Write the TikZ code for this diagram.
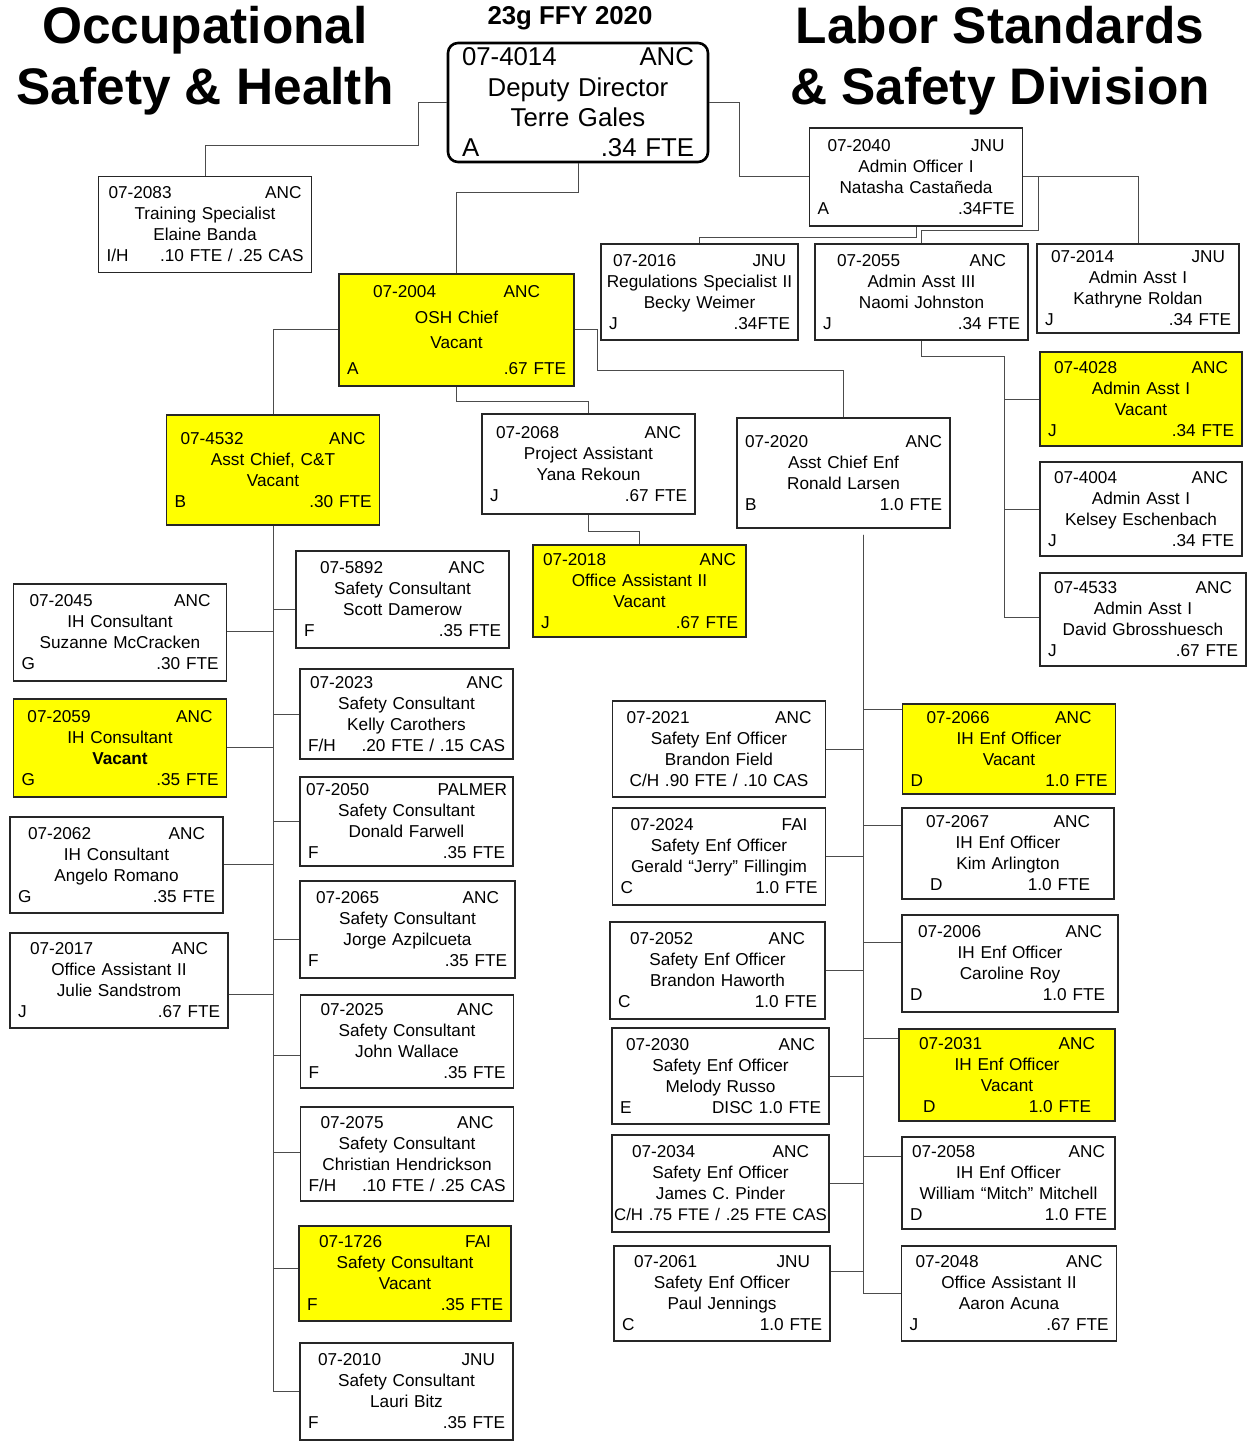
\documentclass[tikz,border=0pt]{standalone}
\usepackage{fontspec}
\setmainfont{Liberation Sans}
\definecolor{vacant}{RGB}{255,255,0}
\newcommand{\posbox}[7][6pt]{\makebox[\hsize]{\hspace{#1}#2\hfill#3\hspace{#1}}\\#4\\#5\\\makebox[\hsize]{\hspace{2pt}#6\hfill#7\hspace{2pt}}}
\tikzstyle{job} = [rectangle, draw=black!85, line width=0.8pt, fill=white, minimum height=48pt, text width=102.5pt, inner xsep=2pt, inner ysep=1pt, align=center, font=\fontsize{8.6}{10.5}\selectfont]
\tikzstyle{jobvac} = [job, fill=vacant]
\tikzstyle{deputy} = [rectangle, rounded corners=5pt, draw=black, line width=1.3pt, text width=124pt, minimum height=59.5pt, inner xsep=3pt, inner ysep=0.5pt, align=center, font=\fontsize{12.9}{15.2}\selectfont]
\tikzstyle{heading} = [font=\fontsize{25.7}{30.5}\selectfont\bfseries, align=center, inner sep=0pt, anchor=north]
\tikzstyle{link} = [draw=black!70, line width=0.5pt]

\begin{document}
\begin{tikzpicture}[x=0.5pt, y=-0.5pt]
\useasboundingbox (0,0) rectangle (1251,1444);

\node[heading] (osh) at (205,6) {Occupational\\Safety \& Health};
\node[heading] (lssd) at (1000,6) {Labor Standards\\\& Safety Division};
\node[heading, font=\fontsize{12.9}{15}\selectfont\bfseries] (ffy) at (570,6) {23g FFY 2020};

\node[deputy] (dd) at (578,102.5) {\posbox[4pt]{07-4014}{ANC}{Deputy Director}{Terre Gales}{\hspace{2pt}A}{.34 FTE\hspace{2pt}}};

\node[job] (p2083) at (205,224.5) {\posbox[3pt]{07-2083}{ANC}{Training Specialist}{Elaine Banda}{I/H}{.10 FTE / .25 CAS}};
\node[job, minimum height=49pt] (p2040) at (916,177) {\posbox[7pt]{07-2040}{JNU}{Admin Officer I}{Natasha Castañeda}{A}{.34FTE}};
\node[job, text width=94.5pt] (p2016) at (699.5,292) {\posbox[4pt]{07-2016}{JNU}{Regulations Specialist II}{Becky Weimer}{J}{.34FTE}};
\node[job] (p2055) at (921.5,292) {\posbox[9pt]{07-2055}{ANC}{Admin Asst III}{Naomi Johnston}{J}{.34 FTE}};
\node[job, text width=97pt, minimum height=44.5pt] (p2014) at (1138,288.5) {\posbox[5pt]{07-2014}{JNU}{Admin Asst I}{Kathryne Roldan}{J}{.34 FTE}};
\node[jobvac, text width=113.5pt, minimum height=56pt, font=\fontsize{8.6}{12.8}\selectfont] (p2004) at (456.5,330) {\posbox[15pt]{07-2004}{ANC}{OSH Chief}{Vacant}{A}{.67 FTE}};

\node[jobvac, text width=97pt, minimum height=47pt] (p4028) at (1141,399) {\posbox[5pt]{07-4028}{ANC}{Admin Asst I}{Vacant}{J}{.34 FTE}};
\node[job, text width=97pt, minimum height=47pt] (p4004) at (1141,509) {\posbox[5pt]{07-4004}{ANC}{Admin Asst I}{Kelsey Eschenbach}{J}{.34 FTE}};
\node[job, text width=99pt, minimum height=46.5pt] (p4533) at (1143,619.5) {\posbox[5pt]{07-4533}{ANC}{Admin Asst I}{David Gbrosshuesch}{J}{.67 FTE}};

\node[jobvac, minimum height=55pt] (p4532) at (273,470) {\posbox[5pt]{07-4532}{ANC}{Asst Chief, C\&T}{Vacant}{B}{.30 FTE}};
\node[job, minimum height=50pt] (p2068) at (588.5,464) {\posbox[5pt]{07-2068}{ANC}{Project Assistant}{Yana Rekoun}{J}{.67 FTE}};
\node[job, minimum height=55pt] (p2020) at (843.5,473) {\posbox[2pt]{07-2020}{ANC}{Asst Chief Enf}{Ronald Larsen}{B}{1.0 FTE}};
\node[jobvac, minimum height=46pt] (p2018) at (639.5,591) {\posbox[3pt]{07-2018}{ANC}{Office Assistant II}{Vacant}{J}{.67 FTE}};

\node[job, minimum height=48.5pt] (p2045) at (120,632.5) {\posbox[6pt]{07-2045}{ANC}{IH Consultant}{Suzanne McCracken}{G}{.30 FTE}};
\node[jobvac, minimum height=49pt] (p2059) at (120,748) {\posbox[5pt]{07-2059}{ANC}{IH Consultant}{\textbf{Vacant}}{G}{.35 FTE}};
\node[job] (p2062) at (116.5,865) {\posbox[7pt]{07-2062}{ANC}{IH Consultant}{Angelo Romano}{G}{.35 FTE}};
\node[job, text width=105pt, minimum height=47.5pt] (p2017) at (119,980.5) {\posbox[8pt]{07-2017}{ANC}{Office Assistant II}{Julie Sandstrom}{J}{.67 FTE}};

\node[job, minimum height=48.5pt] (p5892) at (402.5,599.5) {\posbox[10pt]{07-5892}{ANC}{Safety Consultant}{Scott Damerow}{F}{.35 FTE}};
\node[job, minimum height=45pt] (p2023) at (406.5,714) {\posbox[3pt]{07-2023}{ANC}{Safety Consultant}{Kelly Carothers}{F/H}{.20 FTE / .15 CAS}};
\node[job, minimum height=44.5pt] (p2050) at (406.5,821.5) {\posbox[1pt]{07-2050}{PALMER}{Safety Consultant}{Donald Farwell}{F}{.35 FTE}};
\node[job, text width=103.5pt, minimum height=48.5pt] (p2065) at (407.5,929.5) {\posbox[6pt]{07-2065}{ANC}{Safety Consultant}{Jorge Azpilcueta}{F}{.35 FTE}};
\node[job, minimum height=46.5pt] (p2025) at (407,1041.5) {\posbox[8pt]{07-2025}{ANC}{Safety Consultant}{John Wallace}{F}{.35 FTE}};
\node[job, minimum height=47pt] (p2075) at (407,1154) {\posbox[8pt]{07-2075}{ANC}{Safety Consultant}{Christian Hendrickson}{F/H}{.10 FTE / .25 CAS}};
\node[jobvac, text width=102pt, minimum height=47.5pt] (p1726) at (405,1273.5) {\posbox[8pt]{07-1726}{FAI}{Safety Consultant}{Vacant}{F}{.35 FTE}};
\node[job, minimum height=48.5pt] (p2010) at (406.5,1391.5) {\posbox[7pt]{07-2010}{JNU}{Safety Consultant}{Lauri Bitz}{F}{.35 FTE}};

\node[job] (p2021) at (719,749) {\posbox[5pt]{07-2021}{ANC}{Safety Enf Officer}{Brandon Field}{\hfill C/H .90 FTE / .10 CAS}{}};
\node[job, minimum height=48.5pt] (p2024) at (719,856.5) {\posbox[7pt]{07-2024}{FAI}{Safety Enf Officer}{Gerald “Jerry” Fillingim}{C}{1.0 FTE}};
\node[job, text width=103.5pt, minimum height=48.5pt] (p2052) at (717.5,970.5) {\posbox[8pt]{07-2052}{ANC}{Safety Enf Officer}{Brandon Haworth}{C}{1.0 FTE}};
\node[job, text width=104.5pt] (p2030) at (720.5,1076) {\posbox[5pt]{07-2030}{ANC}{Safety Enf Officer}{Melody Russo}{E}{DISC 1.0 FTE}};
\node[job, text width=104.5pt, minimum height=48.5pt] (p2034) at (720.5,1183.5) {\posbox[8pt]{07-2034}{ANC}{Safety Enf Officer}{James C. Pinder}{\hspace{-1.5pt}\fontsize{8.4}{10.5}\selectfont C/H .75 FTE / .25 FTE CAS\hspace{-1.5pt}}{}};
\node[job, text width=104pt, minimum height=47.5pt] (p2061) at (722,1293.5) {\posbox[8pt]{07-2061}{JNU}{Safety Enf Officer}{Paul Jennings}{C}{1.0 FTE}};

\node[jobvac, minimum height=45pt] (p2066) at (1009,749) {\posbox[10pt]{07-2066}{ANC}{IH Enf Officer}{Vacant}{D}{1.0 FTE}};
\node[job, text width=102pt, minimum height=45.5pt] (p2067) at (1008,853.5) {\posbox[10pt]{07-2067}{ANC}{IH Enf Officer}{Kim Arlington}{\hspace{10pt}D}{1.0 FTE\hspace{8pt}}};
\node[job, text width=104pt, minimum height=48.5pt] (p2006) at (1010,963.5) {\posbox[6pt]{07-2006}{ANC}{IH Enf Officer}{Caroline Roy}{D}{1.0 FTE\hspace{2.5pt}}};
\node[jobvac, text width=104pt, minimum height=46pt] (p2031) at (1007,1075) {\posbox[8pt]{07-2031}{ANC}{IH Enf Officer}{Vacant}{\hspace{8pt}D}{1.0 FTE\hspace{8pt}}};
\node[job, minimum height=46pt] (p2058) at (1008.5,1183) {\posbox[3pt]{07-2058}{ANC}{IH Enf Officer}{William “Mitch” Mitchell}{D}{1.0 FTE}};
\node[job, text width=103.5pt, minimum height=47.5pt] (p2048) at (1009,1293.5) {\posbox[5pt]{07-2048}{ANC}{Office Assistant II}{Aaron Acuna}{J}{.67 FTE}};

\coordinate (j2083) at (418,146);
\coordinate (j2055) at (1004,357);

\draw[link] (dd.west) -| (j2083) -| (p2083.north);
\draw[link] (dd.south) -- ++(0,-14.5pt) -| (p2004.north);
\draw[link] (dd.east) -- ++(15pt,0) |- (p2040.west);
\draw[link] (p2040.south) -- ++(0,-5.5pt) -| (p2016.north);
\draw[link] (p2040.east) -- ++(7.5pt,0) -- ++(0,-27pt) -| (p2055.north);
\draw[link] (p2040.east) -| (p2014.north);
\foreach \n/\s in {p4028/0pt, p4004/0pt, p4533/1.25pt}
  \draw[link] (p2055.south) |- (j2055) |- ([yshift=\s]\n.west);
\draw[link] (p2004.west) -| (p4532.north);
\draw[link] (p2004.south) -- ++(0,-7.5pt) -| (p2068.north);
\draw[link] (p2004.east) -- ++(11.5pt,0) -- ++(0,-20pt) -| (p2020.north);
\draw[link] (p2068.south) -- ++(0,-8.5pt) -| (p2018.north);
\foreach \n/\s in {p2045/0.5pt, p2059/0.5pt, p2062/0.5pt, p2017/-6.75pt}
  \draw[link] (p4532.south) |- ([yshift=\s]\n.east);
\foreach \n/\s in {p5892/-4.75pt, p2023/0pt, p2050/0pt, p2065/-4.75pt, p2025/-6.75pt, p2075/1pt, p1726/2.75pt, p2010/0pt}
  \draw[link] (p4532.south) |- ([yshift=\s]\n.west);
\foreach \n/\s in {p2021/0pt, p2024/0pt, p2052/0pt, p2030/0pt, p2034/0pt, p2061/11.25pt}
  \draw[link] ([xshift=10pt,yshift=-3pt]p2020.south) |- ([yshift=\s]\n.east);
\foreach \n/\s in {p2066/20pt, p2067/14.25pt, p2006/10.75pt, p2031/18.5pt, p2058/13.5pt, p2048/0pt}
  \draw[link] ([xshift=10pt,yshift=-3pt]p2020.south) |- ([yshift=\s]\n.west);
\end{tikzpicture}
\end{document}
